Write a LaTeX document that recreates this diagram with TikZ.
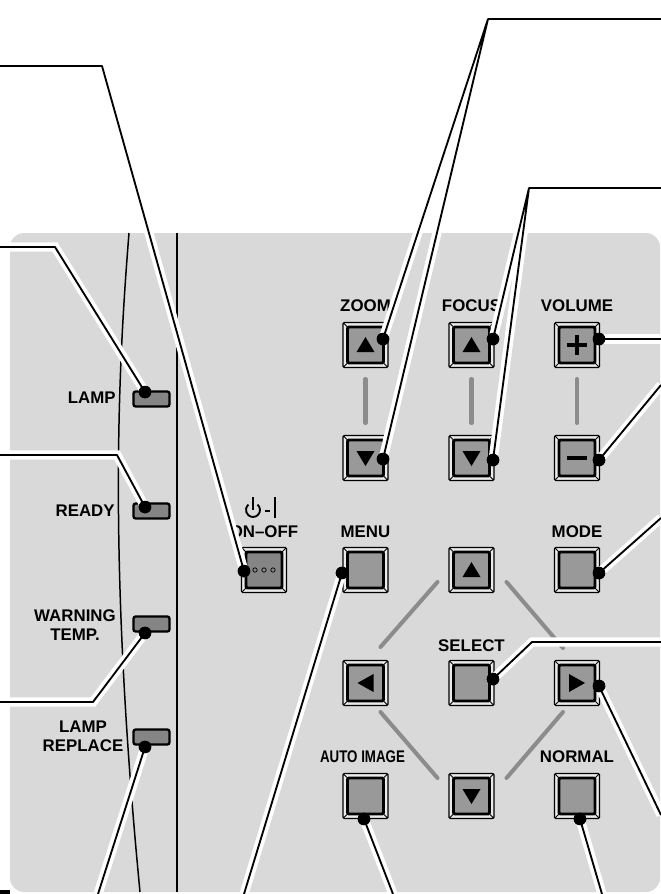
\documentclass[tikz,border=0pt]{standalone}
\usepackage{fontspec}
\setmainfont{Liberation Sans}
\usepackage{xcolor}
\usepackage{tikz}
\usetikzlibrary{calc}
\definecolor{panelGray}{HTML}{D9D9D9}
\definecolor{keyGray}{HTML}{999999}
\definecolor{ledGray}{HTML}{858585}
\definecolor{linkGray}{HTML}{8C8C8C}

\begin{document}
\begin{tikzpicture}[
    x=0.02cm, y=-0.02cm,
    lbl/.style={font=\bfseries\fontsize{9.6}{10.9}\selectfont, inner sep=0pt,
                align=center, text=black},
    btn/.style={rectangle, draw=black, line width=0.8pt, fill=white!92!black,
                rounded corners=0.8pt, minimum size=0.9cm, inner sep=0pt,
                path picture={
                  \draw[line width=0.5pt]
                    (path picture bounding box.north west) -- (path picture bounding box.south east)
                    (path picture bounding box.north east) -- (path picture bounding box.south west);
                  \draw[line width=1.6pt, fill=#1]
                    ([shift={(.09cm,-.09cm)}]path picture bounding box.north west) rectangle
                    ([shift={(-.09cm,.09cm)}]path picture bounding box.south east);
                }},
    btn/.default=keyGray,
    led/.style={rectangle, draw=black, line width=1.3pt, fill=ledGray,
                rounded corners=1.2pt, minimum width=0.72cm, minimum height=0.3cm, inner sep=0pt},
    link/.style={linkGray, line width=2.3pt, line cap=round},
    lead/.style={draw=black, line width=1.05pt, line join=round,
                 preaction={draw=white, line width=5.2pt, line join=miter}},
    dot/.style={circle, fill=black, minimum size=0.25cm, inner sep=0pt},
]
\useasboundingbox (0,0) rectangle (661,894);

% panel
\fill[panelGray, rounded corners=0.28cm] (10,233) rectangle (660,892);
\fill[black] (0,890) rectangle (10,894);
\draw[line width=0.85pt] (177,233) -- (177,892);
\draw[line width=0.85pt] (129,233) .. controls (118,370) and (108,560) .. (140,892);

% labels
\node[lbl, anchor=east] (lampTxt) at (116,398) {LAMP};
\node[lbl, anchor=east] (readyTxt) at (115,511) {READY};
\node[lbl] (warnTxt) at (75,625) {WARNING\\TEMP.};
\node[lbl] (replTxt) at (83,736) {LAMP\\REPLACE};
\node[lbl] (onoffTxt) at (264,532) {ON--OFF};
\node[lbl] (zoomTxt) at (365.5,306) {ZOOM};
\node[lbl] (focusTxt) at (471.5,306) {FOCUS};
\node[lbl] (volTxt) at (577,306) {VOLUME};
\node[lbl] (menuTxt) at (365.5,532) {MENU};
\node[lbl] (modeTxt) at (577,532) {MODE};
\node[lbl] (selTxt) at (471.5,646) {SELECT};
\node[lbl] (autoTxt) at (362.5,757) {\scalebox{.79}[1]{AUTO IMAGE}};
\node[lbl] (normTxt) at (577,757) {NORMAL};

% power symbol
\draw[line width=1.05pt] (257.5,504.6) arc[start angle=-50, end angle=230, radius=7];
\draw[line width=1.05pt] (253,497) -- (253,510) (265,511) -- (270,511) (275,497) -- (275,518);

% indicators
\node[led] (lampLed) at (151.5,399) {};
\node[led] (readyLed) at (151.5,511) {};
\node[led] (warnLed) at (151.5,624) {};
\node[led] (replLed) at (151.5,737) {};

% keys
\node[btn] (zoomUp) at (365.5,345) {};
\node[btn] (zoomDn) at (365.5,458) {};
\node[btn] (focusUp) at (471.5,345) {};
\node[btn] (focusDn) at (471.5,458) {};
\node[btn] (volUp) at (577,345) {};
\node[btn] (volDn) at (577,458) {};
\node[btn=ledGray] (onoff) at (264,570) {};
\node[btn] (menu) at (365.5,570) {};
\node[btn] (up) at (471.5,570) {};
\node[btn] (mode) at (577,570) {};
\node[btn] (left) at (365.5,683) {};
\node[btn] (select) at (471.5,683) {};
\node[btn] (right) at (577,683) {};
\node[btn] (autoImg) at (365.5,796) {};
\node[btn] (down) at (471.5,796) {};
\node[btn] (normal) at (577,796) {};

% key glyphs
\foreach \k in {zoomUp,focusUp,up}
    \fill[black] ($(\k)+(-9,7)$) -- ($(\k)+(9,7)$) -- ($(\k)+(0,-8)$) -- cycle;
\foreach \k in {zoomDn,focusDn,down}
    \fill[black] ($(\k)+(-9,-7)$) -- ($(\k)+(9,-7)$) -- ($(\k)+(0,8)$) -- cycle;
\fill[black] ($(left)+(8,-9)$) -- ($(left)+(8,9)$) -- ($(left)+(-8,0)$) -- cycle;
\fill[black] ($(right)+(-8,-9)$) -- ($(right)+(-8,9)$) -- ($(right)+(8,0)$) -- cycle;
\draw[line width=2.2pt] ($(volUp)+(-10,0)$) -- ($(volUp)+(10,0)$) ($(volUp)+(0,-10)$) -- ($(volUp)+(0,10)$);
\draw[line width=2.2pt] ($(volDn)+(-10,0)$) -- ($(volDn)+(10,0)$);
\foreach \dx in {-9,0,9}
    \draw[line width=0.4pt, fill=ledGray] ($(onoff)+(\dx,0)$) circle (2.2);

% links between keys
\draw[link] (zoomUp.south |- 0,379) -- (zoomDn.north |- 0,423);
\draw[link] (focusUp.south |- 0,379) -- (focusDn.north |- 0,423);
\draw[link] (volUp.south |- 0,379) -- (volDn.north |- 0,423);
\draw[link] ($(up)+(-34,12)$) -- ($(left)+(15,-36)$);
\draw[link] ($(up)+(35,12)$) -- ($(right)+(-14,-35)$);
\draw[link] ($(left)+(15,29)$) -- ($(down)+(-34,-18)$);
\draw[link] ($(right)+(-14,29)$) -- ($(down)+(35,-18)$);

% lead ends
\node[dot] (lampDot) at (145,392) {};
\node[dot] (readyDot) at (145,507) {};
\node[dot] (warnDot) at (145,633) {};
\node[dot] (replDot) at (145,747) {};
\node[dot] (onoffDot) at (244,571) {};
\node[dot] (zoomUpDot) at (383,339) {};
\node[dot] (zoomDnDot) at (383,459) {};
\node[dot] (focusUpDot) at (493,339) {};
\node[dot] (focusDnDot) at (493,460) {};
\node[dot] (volUpDot) at (599,339) {};
\node[dot] (volDnDot) at (599,460) {};
\node[dot] (menuDot) at (342,573) {};
\node[dot] (modeDot) at (599,573) {};
\node[dot] (selDot) at (493,679) {};
\node[dot] (rightDot) at (599,686) {};
\node[dot] (autoDot) at (364,819) {};
\node[dot] (normDot) at (580,819) {};

\coordinate (lampKnee) at (55,247);   \coordinate (lampEnd) at (0,247);
\coordinate (readyKnee) at (117,455); \coordinate (readyEnd) at (0,455);
\coordinate (warnKnee) at (93,702);   \coordinate (warnEnd) at (0,702);
\coordinate (replEnd) at (98,894);
\coordinate (onoffKnee) at (102,66);  \coordinate (onoffEnd) at (0,66);
\coordinate (zoomKnee) at (488,19);   \coordinate (zoomEnd) at (661,19);
\coordinate (focusKnee) at (529,188); \coordinate (focusEnd) at (661,188);
\coordinate (volUpEnd) at (661,339);
\coordinate (volDnEnd) at (661,385);
\coordinate (modeEnd) at (661,518);
\coordinate (selKnee) at (532,642);   \coordinate (selEnd) at (661,642);
\coordinate (rightEnd) at (661,815);
\coordinate (menuEnd) at (244,894);
\coordinate (autoEnd) at (393,894);
\coordinate (normEnd) at (602,894);

% leads
\draw[lead] (lampDot.center) -- (lampKnee) -- (lampEnd);
\draw[lead] (readyDot.center) -- (readyKnee) -- (readyEnd);
\draw[lead] (warnDot.center) -- (warnKnee) -- (warnEnd);
\draw[lead] (replDot.center) -- (replEnd);
\draw[lead] (onoffDot.center) -- (onoffKnee) -- (onoffEnd);
\draw[lead] (zoomUpDot.center) -- (zoomKnee) -- (zoomDnDot.center) (zoomKnee) -- (zoomEnd);
\draw[lead] (focusUpDot.center) -- (focusKnee) -- (focusDnDot.center) (focusKnee) -- (focusEnd);
\draw[lead] (volUpDot.center) -- (volUpEnd);
\draw[lead] (volDnDot.center) -- (volDnEnd);
\draw[lead] (menuDot.center) -- (menuEnd);
\draw[lead] (modeDot.center) -- (modeEnd);
\draw[lead] (selDot.center) -- (selKnee) -- (selEnd);
\draw[lead] (rightDot.center) -- (rightEnd);
\draw[lead] (autoDot.center) -- (autoEnd);
\draw[lead] (normDot.center) -- (normEnd);

% redraw dots above their leads
\foreach \d in {lampDot,readyDot,warnDot,replDot,onoffDot,zoomUpDot,zoomDnDot,focusUpDot,focusDnDot,volUpDot,volDnDot,menuDot,modeDot,selDot,rightDot,autoDot,normDot}
    \fill[black] (\d) circle (6.3);
\end{tikzpicture}
\end{document}
